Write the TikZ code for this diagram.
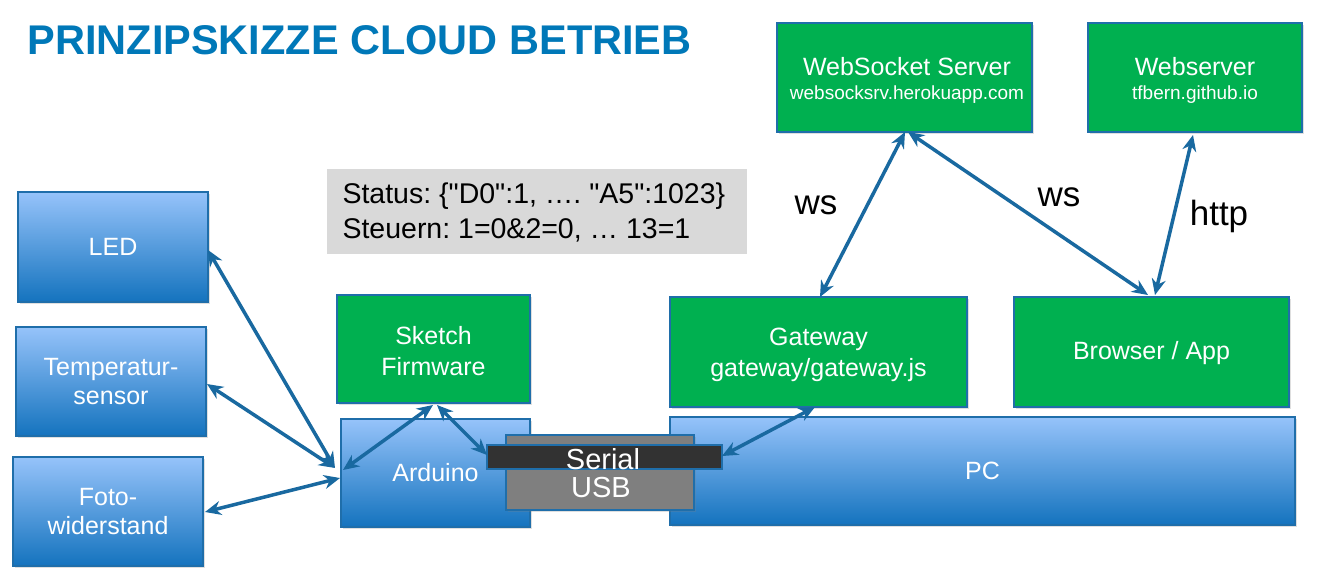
\documentclass[tikz,border=0pt]{standalone}
\usepackage{fontspec}
\setmainfont{Liberation Sans}[Ligatures=TeXOff]
\usetikzlibrary{arrows.meta,shadows}
\definecolor{titleblue}{RGB}{0,120,184}
\definecolor{boxgreen}{RGB}{0,176,80}
\definecolor{edgeblue}{RGB}{31,110,170}
\definecolor{lightblue}{RGB}{150,195,250}
\definecolor{darkblue}{RGB}{20,115,190}
\definecolor{arrowblue}{RGB}{25,105,160}
\definecolor{grayfill}{RGB}{217,217,217}
\definecolor{usbgray}{RGB}{127,127,127}
\definecolor{serialblack}{RGB}{50,50,50}
\frenchspacing
\tikzset{
  bluebox/.style={draw=edgeblue, line width=1.5pt, top color=lightblue, bottom color=darkblue,
    text=white, align=center, inner sep=0pt, outer sep=0pt, font=\fontsize{25}{29}\selectfont,
    drop shadow={shadow xshift=2pt, shadow yshift=-2pt, opacity=0.25}},
  greenbox/.style={draw=edgeblue, line width=1.5pt, fill=boxgreen,
    text=white, align=center, inner sep=0pt, outer sep=0pt, font=\fontsize{25}{31}\selectfont,
    drop shadow={shadow xshift=2pt, shadow yshift=-2pt, opacity=0.25}},
  boxtext/.style={text=white, align=center, inner sep=0pt, font=\fontsize{25}{31}\selectfont},
  link/.style={draw=arrowblue, line width=3.5pt, {Stealth[length=16pt,width=14pt]}-{Stealth[length=16pt,width=14pt]}},
  lbl/.style={font=\fontsize{35}{38}\selectfont, text=black}
}
\begin{document}
\begin{tikzpicture}[x=1pt,y=-1pt]
\useasboundingbox (0,0) rectangle (1328,578);
\fill[white] (0,0) rectangle (1328,578);

\node[anchor=west, text=titleblue, font=\fontsize{41.5}{44}\selectfont\bfseries] (title) at (24,40) {PRINZIPSKIZZE CLOUD BETRIEB};

% left sensors
\node[bluebox, minimum width=190pt, minimum height=110pt] (led) at (113,247) {LED};
\node[bluebox, minimum width=190pt, minimum height=109pt] (temp) at (111,381.5) {Temperatur-\\sensor};
\node[bluebox, minimum width=190pt, minimum height=109pt] (foto) at (108,511.5) {Foto-\\widerstand};

% arduino
\node[bluebox, minimum width=189pt, minimum height=108pt] (ard) at (435.5,473) {};
\node[boxtext] (ardt) at (435.5,473) {Arduino};
\node[greenbox, minimum width=193pt, minimum height=108pt] (sketch) at (433.5,349) {};
\node[boxtext] (sketcht) at (433.5,351) {Sketch\\Firmware};

% PC
\node[bluebox, minimum width=625pt, minimum height=108pt] (pc) at (982.5,471) {PC};
\node[greenbox, minimum width=297pt, minimum height=110pt] (gw) at (818.5,352) {};
\node[boxtext] (gwt) at (818.5,355) {Gateway\\gateway/gateway.js};
\node[greenbox, minimum width=275pt, minimum height=110pt] (br) at (1151.5,352) {};
\node[boxtext] (brt) at (1151.5,353) {Browser / App};

% USB / Serial
\node[draw=edgeblue, line width=1.5pt, fill=usbgray, minimum width=188pt, minimum height=75pt, inner sep=0pt,
  drop shadow={shadow xshift=2pt, shadow yshift=-2pt, opacity=0.25}] (usb) at (600,472.5) {};
\node[text=white, font=\fontsize{29}{32}\selectfont] (usbt) at (601,488) {USB};
\node[draw=edgeblue, line width=1.5pt, fill=serialblack, minimum width=235pt, minimum height=24pt, inner sep=0pt] (serial) at (604.5,457) {};
\node[text=white, font=\fontsize{29}{32}\selectfont] (serialt) at (603,459) {Serial};

% servers
\node[greenbox, minimum width=255pt, minimum height=109pt] (ws) at (904.5,77.5) {};
\node[boxtext] (wst) at (907,80.5) {WebSocket Server\\[-7pt]\fontsize{19}{22}\selectfont websocksrv.herokuapp.com};
\node[greenbox, minimum width=214pt, minimum height=109pt] (web) at (1195,77.5) {};
\node[boxtext] (webt) at (1195,80.5) {Webserver\\[-7pt]\fontsize{19}{22}\selectfont tfbern.github.io};

% status box
\node[fill=grayfill, minimum width=420pt, minimum height=85pt, inner sep=0pt] (status) at (537,211.5) {};
\node[anchor=west, align=left, font=\fontsize{28.5}{35}\selectfont] (statust) at (339,212.5) {Status: \{"D0":1, \dots. "A5":1023\}\\Steuern: 1=0\&2=0, \dots{} 13=1};

% labels
\node[lbl] (l1) at (816,205) {ws};
\node[lbl] (l2) at (1059,197) {ws};
\node[lbl] (l3) at (1219,216) {http};

% connector endpoints
\coordinate (ardin) at (335,468);
\coordinate (ardin2) at (340,478);
\coordinate (ardin3) at (343,470);
\draw[link] (208,250) -- (ardin);
\draw[link] (207,384) -- (ardin);
\draw[link] (205,512) -- (ardin2);
\draw[link] (ardin3) -- (433,405);
\draw[link] (437,405) -- (487,455);
\draw[link] (722,456) -- (815,407);
\draw[link] (820,297) -- (905,132);
\draw[link] (908,132) -- (1148,295);
\draw[link] (1155,295) -- (1193,135);
\end{tikzpicture}
\end{document}
